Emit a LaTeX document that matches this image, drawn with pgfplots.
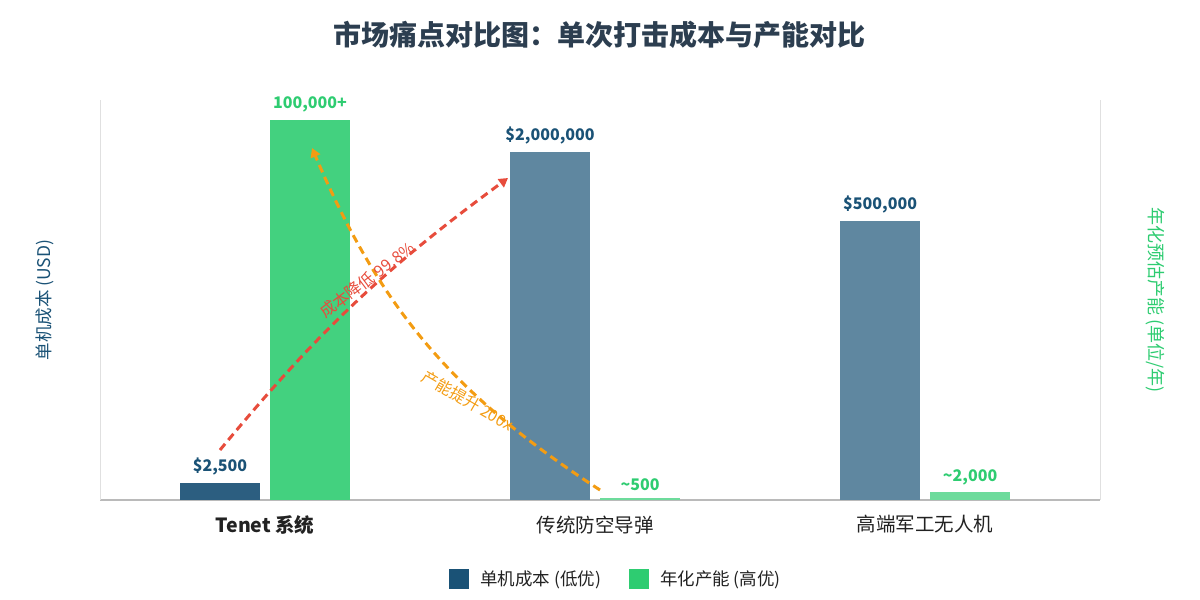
\documentclass[border=0pt]{standalone}
\usepackage{fontspec}
\setmainfont{Noto Sans CJK SC}
\usepackage{pgfplots}
\pgfplotsset{compat=1.18}
\usetikzlibrary{arrows.meta}
\definecolor{costc}{HTML}{1A5276}
\definecolor{costhi}{HTML}{2C5E80}
\definecolor{costlo}{HTML}{5F87A0}
\definecolor{capc}{HTML}{2ECC71}
\definecolor{caphi}{HTML}{43D17F}
\definecolor{caplo}{HTML}{6DDB9C}
\definecolor{redc}{HTML}{E74C3C}
\definecolor{orangec}{HTML}{F39C12}
\definecolor{titlec}{HTML}{2C3E50}
\definecolor{txt}{HTML}{222222}
\begin{document}
\begin{tikzpicture}
\path[use as bounding box] (-100pt,-100pt) rectangle (1100pt,500pt);
% left axis: cost (log)
\begin{axis}[
  name=ax1,
  at={(0,0)}, anchor=south west,
  scale only axis, width=1000pt, height=400pt,
  xmin=-0.5, xmax=2.53,
  ymode=log, ymin=1774, ymax=5730000,
  axis x line*=bottom, axis y line*=left,
  x axis line style={color=black!27, line width=1.5pt},
  y axis line style={color=black!12, line width=1pt},
  xtick={0,1,2},
  xticklabels={\textbf{Tenet 系统},传统防空导弹,高端军工无人机},
  xticklabel style={font=\fontsize{19.5}{22}\selectfont, color=txt, yshift=-12pt},
  ytick=\empty,
  major tick length=0pt,
  nodes near coords style={font=\fontsize{16}{18}\selectfont\bfseries, color=costc, xshift=-45pt, yshift=4pt},
]
\addplot[ybar, bar width=80pt, bar shift=-45pt, fill=costhi, draw=none,
  nodes near coords={\$2,500}] coordinates {(0,2500)};
\addplot[ybar, bar width=80pt, bar shift=-45pt, fill=costlo, draw=none,
  nodes near coords={\$2,000,000}] coordinates {(1,2000000)};
\addplot[ybar, bar width=80pt, bar shift=-45pt, fill=costlo, draw=none,
  nodes near coords={\$500,000}] coordinates {(2,500000)};
\end{axis}
% right axis: capacity (linear)
\begin{axis}[
  name=ax2,
  at={(0,0)}, anchor=south west,
  scale only axis, width=1000pt, height=400pt,
  xmin=-0.5, xmax=2.53,
  ymin=0, ymax=105263,
  axis x line=none, axis y line*=right,
  y axis line style={color=black!12, line width=1pt},
  xtick=\empty, ytick=\empty,
  major tick length=0pt,
  nodes near coords style={font=\fontsize{16}{18}\selectfont\bfseries, color=capc, xshift=45pt, yshift=4pt},
  legend columns=2,
  legend style={at={(0.516,-0.1975)}, anchor=center, draw=none, fill=none,
    font=\fontsize{17.5}{20}\selectfont, text=txt,
    /tikz/every odd column/.append style={column sep=9pt},
    /tikz/every even column/.append style={column sep=26pt}},
  legend image code/.code={\fill[#1] (0pt,-10pt) rectangle (20pt,10pt);},
  clip=false,
]
\addplot[ybar, bar width=80pt, bar shift=45pt, fill=caphi, draw=none, forget plot,
  nodes near coords={100,000+}] coordinates {(0,100000)};
\addplot[ybar, bar width=80pt, bar shift=45pt, fill=caplo, draw=none, forget plot,
  nodes near coords={\textasciitilde500}] coordinates {(1,500)};
\addplot[ybar, bar width=80pt, bar shift=45pt, fill=caplo, draw=none, forget plot,
  nodes near coords={\textasciitilde2,000}] coordinates {(2,2000)};
\addlegendimage{fill=costc, draw=none}
\addlegendentry{单机成本 (低优)}
\addlegendimage{fill=capc, draw=none}
\addlegendentry{年化产能 (高优)}
% annotations
\draw[redc, line width=3pt, dash pattern=on 8pt off 5pt, -{Triangle[width=10pt,length=9pt]}]
  (rel axis cs:0.12,0.125) to[bend left=7] (rel axis cs:0.408,0.805);
\draw[orangec, line width=3pt, dash pattern=on 8pt off 5pt, -{Triangle[width=10pt,length=9pt]}]
  (rel axis cs:0.5,0.025) to[bend left=17] (rel axis cs:0.212,0.88);
\node[redc, rotate=37, font=\fontsize{16}{18}\selectfont] at (rel axis cs:0.267,0.55) {成本降低 99.8\%};
\node[orangec, rotate=-30, font=\fontsize{16}{18}\selectfont] at (rel axis cs:0.368,0.2475) {产能提升 200x};
% axis titles
\node[costc, rotate=90, font=\fontsize{17.5}{20}\selectfont] at (rel axis cs:-0.055,0.5) {单机成本 (USD)};
\node[capc, rotate=-90, font=\fontsize{18}{20}\selectfont] at (rel axis cs:1.055,0.5) {年化预估产能 (单位/年)};
% title
\node[titlec, font=\fontsize{28}{32}\selectfont\bfseries] at (rel axis cs:0.5,1.1625) {市场痛点对比图：单次打击成本与产能对比};
\end{axis}
\end{tikzpicture}
\end{document}
